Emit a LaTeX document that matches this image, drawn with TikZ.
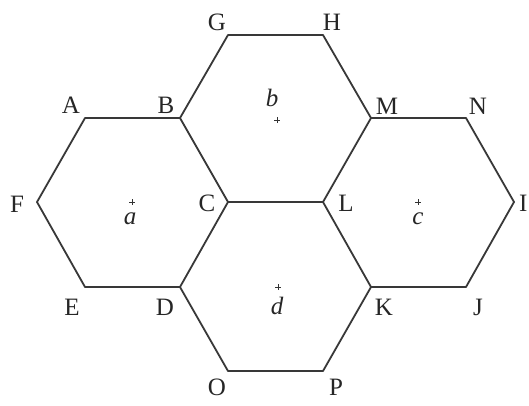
\documentclass[tikz,border=0pt]{standalone}
\usepackage{fontspec}
\setmainfont{Liberation Serif}
\begin{document}
\begin{tikzpicture}[x=1pt,y=-1pt,
  edge/.style={draw=black!78, line width=1.8pt, line join=round},
  lbl/.style={font=\fontsize{25}{25}\selectfont, inner sep=0pt, text=black!85},
  ctr/.style={font=\fontsize{25}{25}\selectfont\itshape, inner sep=0pt, text=black!85},
  pmark/.style={draw=black!80, line width=1pt}]
\useasboundingbox[fill=white] (0,0) rectangle (529,405);
% vertices
\coordinate (A) at (85,118);
\coordinate (B) at (180,118);
\coordinate (C) at (228,202);
\coordinate (D) at (180,287);
\coordinate (E) at (85,287);
\coordinate (F) at (37,202);
\coordinate (G) at (228,35);
\coordinate (H) at (323,35);
\coordinate (M) at (371,118);
\coordinate (L) at (323,202);
\coordinate (N) at (466,118);
\coordinate (I) at (514,202);
\coordinate (J) at (466,287);
\coordinate (K) at (371,287);
\coordinate (O) at (228,371);
\coordinate (P) at (323,371);
% hexagons
\draw[edge] (A) -- (B) -- (C) -- (D) -- (E) -- (F) -- cycle;
\draw[edge] (B) -- (G) -- (H) -- (M) -- (L) -- (C);
\draw[edge] (M) -- (N) -- (I) -- (J) -- (K) -- (L);
\draw[edge] (C) -- (L);
\draw[edge] (K) -- (P) -- (O) -- (D);
% vertex labels
\node[lbl] (lA) at (71,105) {A};
\node[lbl] (lB) at (166,105) {B};
\node[lbl] (lG) at (217,22) {G};
\node[lbl] (lH) at (332,22) {H};
\node[lbl] (lM) at (387,106) {M};
\node[lbl] (lN) at (478,106) {N};
\node[lbl] (lF) at (17,204) {F};
\node[lbl] (lC) at (207,203) {C};
\node[lbl] (lL) at (346,203) {L};
\node[lbl,anchor=west] (lI) at (519,203) {I};
\node[lbl] (lE) at (72,307) {E};
\node[lbl] (lD) at (165,307) {D};
\node[lbl] (lK) at (384,307) {K};
\node[lbl] (lJ) at (478,307) {J};
\node[lbl] (lO) at (217,387) {O};
\node[lbl] (lP) at (336,387) {P};
% centre labels
\node[ctr] (ta) at (130,219) {a};
\node[ctr] (tb) at (272,98) {b};
\node[ctr] (tc) at (418,219) {c};
\node[ctr] (td) at (277,306) {d};
% centre marks
\foreach \x/\y in {132/202, 277/120, 418/202, 278/287}{
  \draw[pmark] (\x-3,\y) -- (\x+3,\y) (\x,\y-3) -- (\x,\y+3);
}
\end{tikzpicture}
\end{document}
